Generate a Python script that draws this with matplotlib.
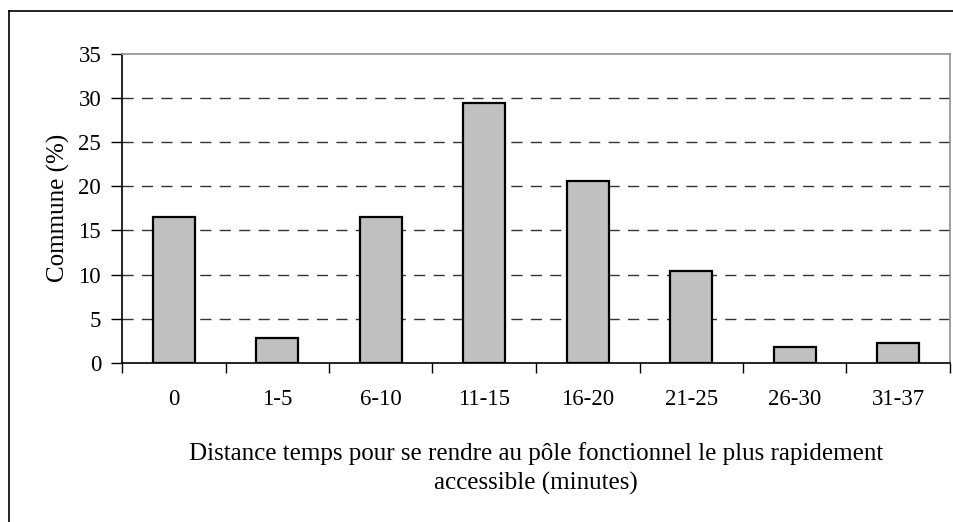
import matplotlib
matplotlib.use("Agg")
from matplotlib import pyplot as plt
from matplotlib.lines import Line2D

# données
categories = ["0", "1-5", "6-10", "11-15", "16-20", "21-25", "26-30", "31-37"]
communes_pct = [16.5, 2.8, 16.5, 29.4, 20.6, 10.4, 1.8, 2.3]
y_ticks = [0, 5, 10, 15, 20, 25, 30, 35]

plt.rcParams['font.family'] = ['Liberation Serif', 'DejaVu Serif']

fig = plt.figure(figsize=(9.54, 5.22), dpi=100)
ax = fig.add_axes([122 / 954, 1 - 363 / 522, (950 - 122) / 954, (363 - 53.5) / 522])

x = list(range(len(categories)))
ax.bar(x, communes_pct, width=0.41, color="#c0c0c0", edgecolor="black",
       linewidth=1.6, zorder=3)

ax.set_xlim(-0.5, len(categories) - 0.5)
ax.set_ylim(0, 35)
ax.set_yticks(y_ticks)
ax.set_yticklabels([str(v) for v in y_ticks], fontsize=16.5)

# ticks majeurs aux limites des catégories, étiquettes au centre
ax.set_xticks([i + 0.5 for i in range(-1, len(categories))])
ax.set_xticklabels([])
ax.set_xticks(x, minor=True)
ax.set_xticklabels(categories, minor=True, fontsize=16.5)
ax.tick_params(axis="x", which="minor", length=0, pad=19)
ax.tick_params(axis="x", which="major", length=7, width=1, direction="out")
ax.tick_params(axis="y", length=8, width=1, direction="out", pad=7)

for v in y_ticks[1:-1]:
    ax.axhline(v, color="#333333", linewidth=1, dashes=(8, 6), zorder=1)

ax.spines["left"].set_color("black")
ax.spines["bottom"].set_color("black")
ax.spines["top"].set_color("#909090")
ax.spines["right"].set_color("#909090")
for s in ax.spines.values():
    s.set_linewidth(1.2)

ax.set_ylabel("Commune (%)", fontsize=18, labelpad=6)
ax.set_xlabel("Distance temps pour se rendre au pôle fonctionnel le plus rapidement\naccessible (minutes)",
              fontsize=18, labelpad=23, linespacing=1.4)

# cadre extérieur (gauche et haut)
fig.add_artist(Line2D([9 / 954, 9 / 954], [0, 1 - 11 / 522], transform=fig.transFigure,
                      color="black", linewidth=1.2))
fig.add_artist(Line2D([9 / 954, 1], [1 - 11 / 522, 1 - 11 / 522], transform=fig.transFigure,
                      color="black", linewidth=1.2))

fig.savefig("out.png", dpi=100)
